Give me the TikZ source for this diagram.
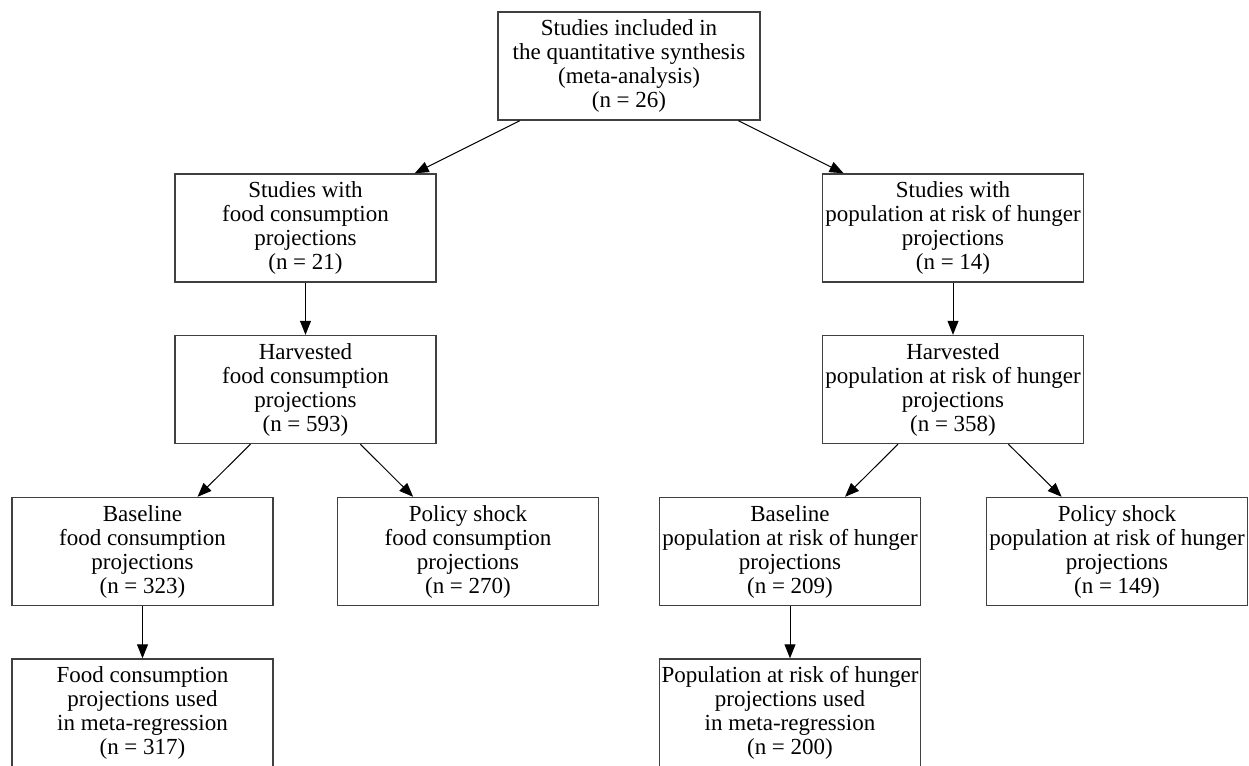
\documentclass[tikz,border=0pt]{standalone}
\usepackage{fontspec}
\setmainfont{Liberation Serif}
\usetikzlibrary{arrows.meta}

\begin{document}
\begin{tikzpicture}[x=0.5pt,y=-0.5pt,>={Triangle[length=7pt,width=5.5pt]},
  font=\fontsize{11.5}{12}\selectfont,
  box/.style={draw=black!75,line width=0.7pt,fill=white,minimum width=130.5pt,
    minimum height=54pt,align=center,inner sep=0pt}]
\clip (0,0) rectangle (1249,766);
\fill[white] (0,0) rectangle (1249,766);
% level 1
\node[box,minimum width=131pt] (all) at (629,66) {Studies included in\\the quantitative synthesis\\(meta-analysis)\\(n = 26)};
% level 2
\node[box] (food) at (305.5,228) {Studies with\\food consumption\\projections\\(n = 21)};
\node[box] (hung) at (953,228) {Studies with\\population at risk of hunger\\projections\\(n = 14)};
% level 3
\node[box] (foodH) at (305.5,389.5) {Harvested\\food consumption\\projections\\(n = 593)};
\node[box] (hungH) at (953,389.5) {Harvested\\population at risk of hunger\\projections\\(n = 358)};
% level 4
\node[box] (foodB) at (142.5,551.5) {Baseline\\food consumption\\projections\\(n = 323)};
\node[box] (foodP) at (468,551.5) {Policy shock\\food consumption\\projections\\(n = 270)};
\node[box] (hungB) at (790,551.5) {Baseline\\population at risk of hunger\\projections\\(n = 209)};
\node[box] (hungP) at (1117,551.5) {Policy shock\\population at risk of hunger\\projections\\(n = 149)};
% level 5
\node[box] (foodM) at (142.5,713) {Food consumption\\projections used\\in meta-regression\\(n = 317)};
\node[box] (hungM) at (790,713) {Population at risk of hunger\\projections used\\in meta-regression\\(n = 200)};
% arrows
\draw[->,line width=0.5pt] (all) -- (food);
\draw[->,line width=0.5pt] (all) -- (hung);
\draw[->,line width=0.5pt] (food) -- (foodH);
\draw[->,line width=0.5pt] (hung) -- (hungH);
\draw[->,line width=0.5pt] (foodH) -- (foodB);
\draw[->,line width=0.5pt] (foodH) -- (foodP);
\draw[->,line width=0.5pt] (hungH) -- (hungB);
\draw[->,line width=0.5pt] (hungH) -- (hungP);
\draw[->,line width=0.5pt] (foodB) -- (foodM);
\draw[->,line width=0.5pt] (hungB) -- (hungM);
\end{tikzpicture}
\end{document}
